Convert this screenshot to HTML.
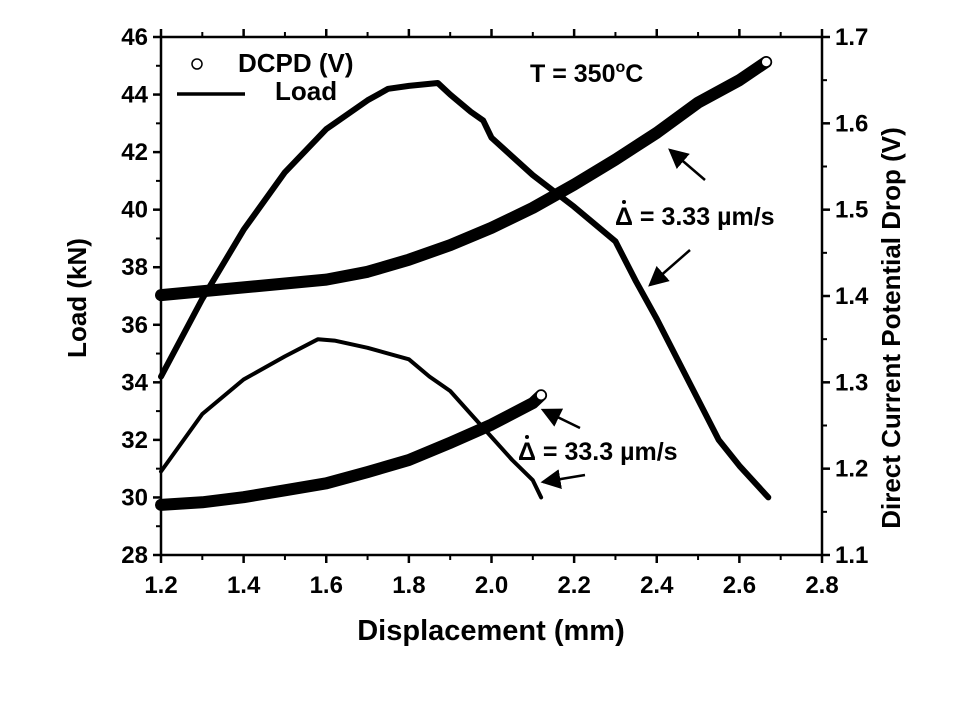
<!DOCTYPE html>
<html><head><meta charset="utf-8"><style>
body{margin:0;background:#fff;}
svg text{font-family:"Liberation Sans",Arial,sans-serif;font-weight:bold;fill:#000;}
</style></head><body>
<svg id="chart" width="960" height="720" xmlns="http://www.w3.org/2000/svg">
<g id="g"></g>
</svg>
<script>
const xTicks=[1.2,1.4,1.6,1.8,2.0,2.2,2.4,2.6,2.8];
const yLTicks=[28,30,32,34,36,38,40,42,44,46];
const yRTicks=[1.1,1.2,1.3,1.4,1.5,1.6,1.7];
const loadFastX=[1.2,1.3,1.4,1.5,1.6,1.7,1.75,1.8,1.87,1.9,1.95,1.98,2.0,2.1,2.2,2.3,2.35,2.4,2.45,2.5,2.55,2.6,2.67];
const loadFastY=[34.2,36.9,39.3,41.3,42.8,43.8,44.2,44.3,44.4,44.0,43.4,43.1,42.5,41.2,40.1,38.9,37.5,36.2,34.8,33.4,32.0,31.1,30.0];
const loadSlowX=[1.2,1.3,1.4,1.5,1.58,1.62,1.7,1.8,1.85,1.9,1.95,2.0,2.05,2.1,2.12];
const loadSlowY=[30.9,32.9,34.1,34.9,35.5,35.45,35.2,34.8,34.2,33.7,32.9,32.1,31.3,30.6,30.0];
const dcpdFastX=[1.2,1.4,1.6,1.7,1.8,1.9,2.0,2.1,2.2,2.3,2.4,2.5,2.6,2.665];
const dcpdFastY=[1.401,1.41,1.419,1.428,1.442,1.459,1.479,1.502,1.529,1.558,1.589,1.624,1.65,1.671];
const dcpdSlowX=[1.2,1.3,1.4,1.5,1.6,1.7,1.8,1.9,2.0,2.1,2.12];
const dcpdSlowY=[1.158,1.161,1.167,1.175,1.183,1.196,1.21,1.23,1.251,1.276,1.285];

const L=161,R=822,T=37,B=555;
const sx=v=>L+(v-1.2)/1.6*(R-L);
const syL=v=>B-(v-28)/18*(B-T);
const syR=v=>B-(v-1.1)/0.6*(B-T);
const g=document.getElementById('g');
const NS='http://www.w3.org/2000/svg';
function mk(t,a,txt){const e=document.createElementNS(NS,t);for(const k in a)e.setAttribute(k,a[k]);if(txt!==undefined)e.textContent=txt;g.appendChild(e);return e;}

let e=mk('rect',{x:L,y:T,width:R-L,height:B-T,fill:'none',stroke:'#000','stroke-width':2.5});


xTicks.forEach((v,i)=>{
  const x=sx(v);
  let t=mk('line',{x1:x,y1:B,x2:x,y2:B+8,stroke:'#000','stroke-width':2.5});
  
  
  let t2=mk('line',{x1:x,y1:T,x2:x,y2:T-8,stroke:'#000','stroke-width':2.5});
  
  
  if(i<xTicks.length-1){const xm=sx(v+0.1);
    mk('line',{x1:xm,y1:B,x2:xm,y2:B+5,stroke:'#000','stroke-width':2});
    mk('line',{x1:xm,y1:T,x2:xm,y2:T-5,stroke:'#000','stroke-width':2});}
  let lb=mk('text',{x:x,y:B+38,'font-size':24,'text-anchor':'middle'},v.toFixed(1));
  
  
});
yLTicks.forEach((v,i)=>{
  const y=syL(v);
  mk('line',{x1:L,y1:y,x2:L-8,y2:y,stroke:'#000','stroke-width':2.5});
  if(i<yLTicks.length-1){const ym=syL(v+1);mk('line',{x1:L,y1:ym,x2:L-5,y2:ym,stroke:'#000','stroke-width':2});}
  let lb=mk('text',{x:L-13,y:y+8,'font-size':24,'text-anchor':'end'},String(v));
  
  
});
yRTicks.forEach((v,i)=>{
  const y=syR(v);
  mk('line',{x1:R,y1:y,x2:R+8,y2:y,stroke:'#000','stroke-width':2.5});
  if(i<yRTicks.length-1){const ym=syR(v+0.05);mk('line',{x1:R,y1:ym,x2:R+5,y2:ym,stroke:'#000','stroke-width':2});}
  let lb=mk('text',{x:R+13,y:y+8,'font-size':24,'text-anchor':'start'},v.toFixed(1));
  
  
});
function path(xs,ys,fy,w,name){
  const d=xs.map((v,i)=>(i?'L':'M')+sx(v).toFixed(1)+','+fy(ys[i]).toFixed(1)).join(' ');
  const p=mk('path',{d:d,fill:'none',stroke:'#000','stroke-width':w,'stroke-linejoin':'round','stroke-linecap':'round'});
  
  
}
path(loadFastX,loadFastY,syL,6,'load-line-3.33');
path(loadSlowX,loadSlowY,syL,4,'load-line-33.3');
path(dcpdFastX,dcpdFastY,syR,12,'dcpd-markers-3.33');
path(dcpdSlowX,dcpdSlowY,syR,12,'dcpd-markers-33.3');
[[dcpdFastX,dcpdFastY],[dcpdSlowX,dcpdSlowY]].forEach(([xs,ys])=>{
  const n=xs.length-1;
  const c=mk('circle',{cx:sx(xs[n]),cy:syR(ys[n]),r:5,fill:'#fff',stroke:'#000','stroke-width':1.5});
  
  
});
</script>
<svg width="960" height="720" style="position:absolute;left:0;top:0" xmlns="http://www.w3.org/2000/svg">
<defs><marker id="ah" markerWidth="8" markerHeight="8" refX="7" refY="4" orient="auto"><path d="M0,0 L8,4 L0,8 Z" fill="#000"/></marker></defs>
<g>
<circle cx="197" cy="64" r="5" fill="#fff" stroke="#000" stroke-width="1.5"/>
<text x="238" y="72" font-size="26">DCPD (V)</text>
<line x1="177" y1="94" x2="245" y2="94" stroke="#000" stroke-width="3.5"/>
<text x="275" y="100" font-size="26">Load</text>
</g>
<text x="530" y="82" font-size="25">T = 350<tspan dy="-10" font-size="16">o</tspan><tspan dy="10">C</tspan></text>
<g>
<text x="615" y="225" font-size="25">Δ = 3.33 µm/s</text>
<circle cx="624" cy="202" r="2" fill="#000"/>
</g>
<g>
<text x="518" y="460" font-size="25">Δ = 33.3 µm/s</text>
<circle cx="527" cy="437" r="2" fill="#000"/>
</g>
<line x1="705" y1="180" x2="670" y2="150" stroke="#000" stroke-width="2.5" marker-end="url(#ah)"/>
<line x1="690" y1="250" x2="650" y2="285" stroke="#000" stroke-width="2.5" marker-end="url(#ah)"/>
<line x1="580" y1="428" x2="543" y2="410" stroke="#000" stroke-width="2.5" marker-end="url(#ah)"/>
<line x1="585" y1="475" x2="543" y2="482" stroke="#000" stroke-width="2.5" marker-end="url(#ah)"/>
<text x="491" y="640" font-size="29" text-anchor="middle">Displacement (mm)</text>
<text transform="translate(86,298) rotate(-90)" font-size="26" text-anchor="middle">Load (kN)</text>
<text transform="translate(900,328) rotate(-90)" font-size="26" text-anchor="middle">Direct Current Potential Drop (V)</text>
</svg>
</body></html>
